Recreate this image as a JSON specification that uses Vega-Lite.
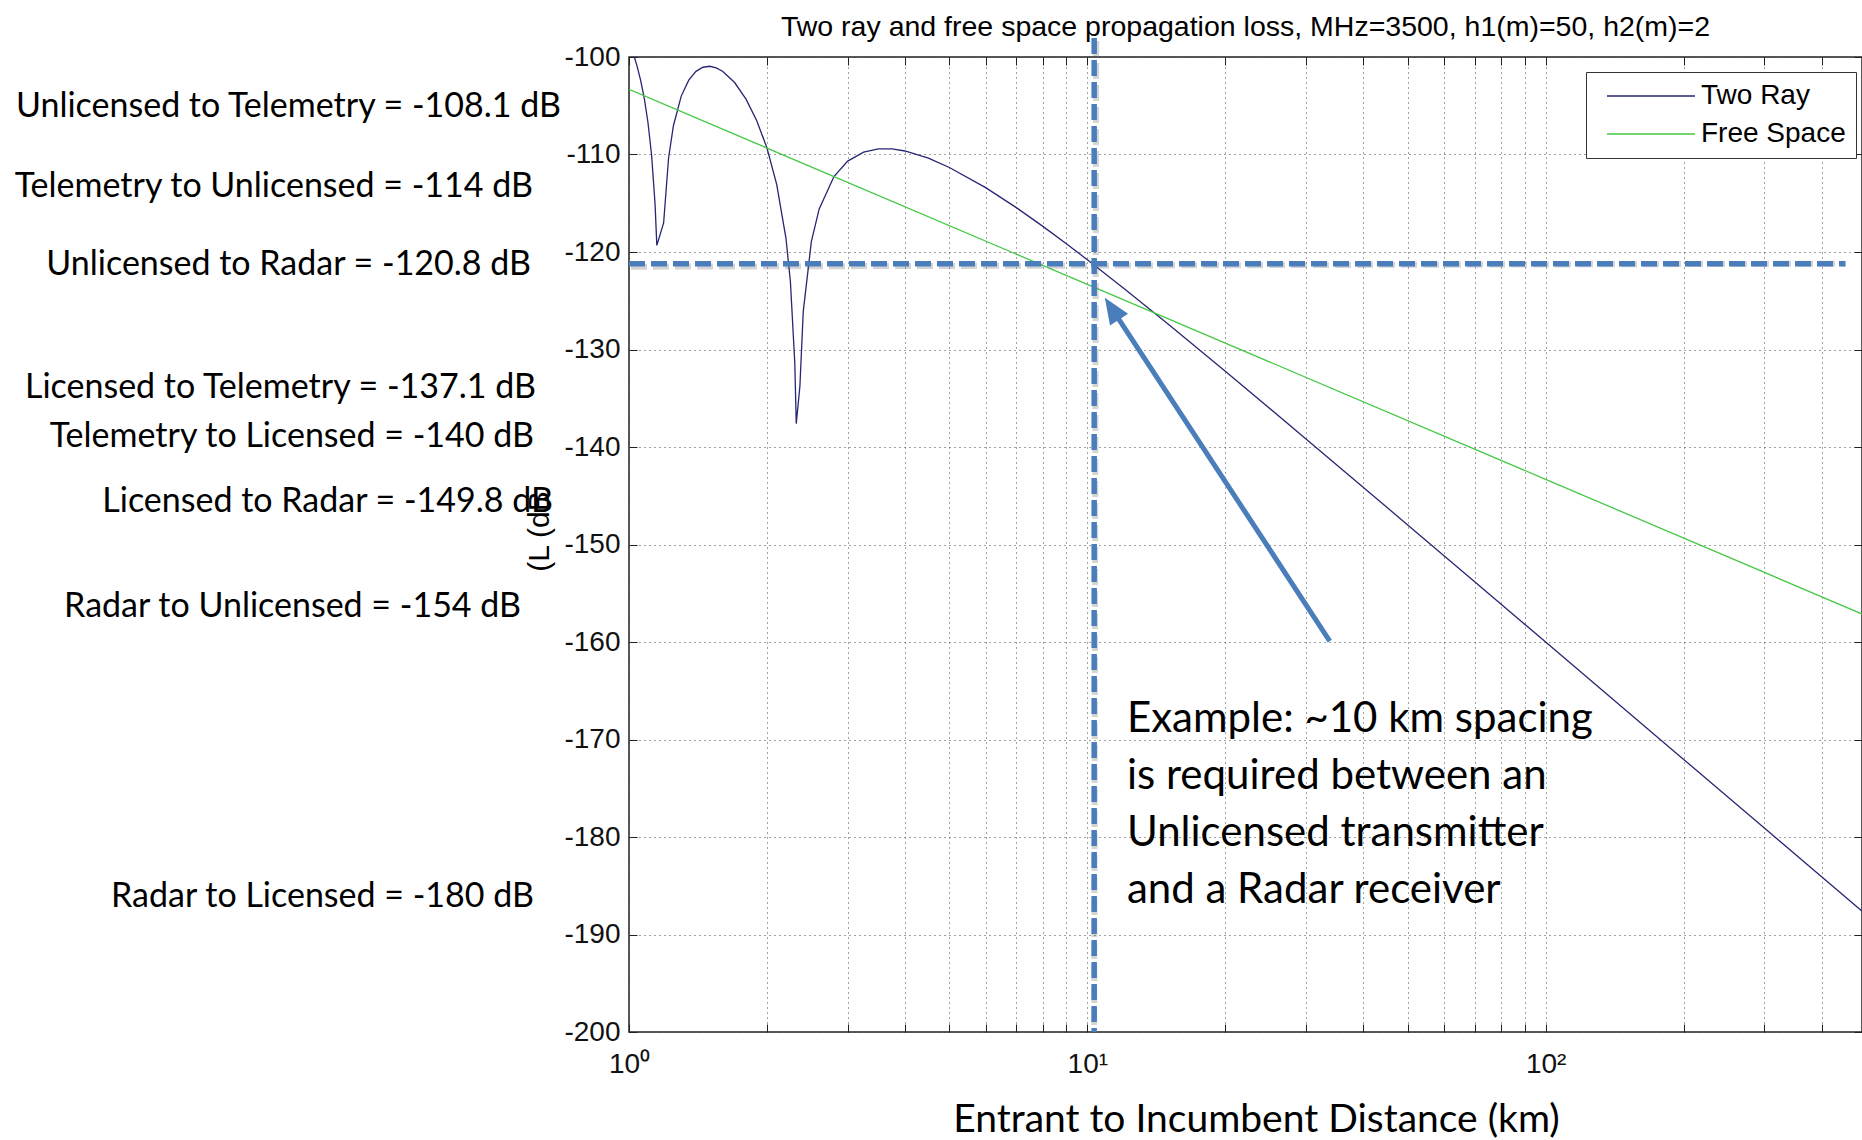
{
  "$schema": "https://vega.github.io/schema/vega-lite/v6.json",
  "width": 1233,
  "height": 975,
  "autosize": {"type": "none"},
  "padding": {"left": 629, "top": 57, "right": 0, "bottom": 108},
  "background": "white",
  "title": {
    "text": "Two ray and free space propagation loss, MHz=3500, h1(m)=50, h2(m)=2",
    "font": "Liberation Sans", "fontSize": 28.5, "fontWeight": "normal", "color": "black",
    "anchor": "middle", "frame": "group", "baseline": "bottom", "offset": -35
  },
  "config": {
    "view": {"stroke": "#222", "strokeWidth": 1.5},
    "axis": {"labelFont": "Liberation Sans", "labelColor": "#111", "tickColor": "#222", "tickWidth": 1, "domain": false, "titleFontWeight": "normal", "titleColor": "#111"}
  },
  "datasets": {
    "curves": [
      {"series": "Two Ray", "d": 1.00, "L": -98.55},
      {"series": "Two Ray", "d": 1.02, "L": -99.57},
      {"series": "Two Ray", "d": 1.04, "L": -100.83},
      {"series": "Two Ray", "d": 1.06, "L": -102.37},
      {"series": "Two Ray", "d": 1.08, "L": -104.28},
      {"series": "Two Ray", "d": 1.10, "L": -106.72},
      {"series": "Two Ray", "d": 1.12, "L": -110.02},
      {"series": "Two Ray", "d": 1.14, "L": -115.11},
      {"series": "Two Ray", "d": 1.15, "L": -119.32},
      {"series": "Two Ray", "d": 1.19, "L": -117.02},
      {"series": "Two Ray", "d": 1.22, "L": -110.36},
      {"series": "Two Ray", "d": 1.25, "L": -107.05},
      {"series": "Two Ray", "d": 1.30, "L": -104.01},
      {"series": "Two Ray", "d": 1.35, "L": -102.37},
      {"series": "Two Ray", "d": 1.40, "L": -101.47},
      {"series": "Two Ray", "d": 1.45, "L": -101.05},
      {"series": "Two Ray", "d": 1.50, "L": -100.95},
      {"series": "Two Ray", "d": 1.55, "L": -101.11},
      {"series": "Two Ray", "d": 1.60, "L": -101.46},
      {"series": "Two Ray", "d": 1.70, "L": -102.62},
      {"series": "Two Ray", "d": 1.80, "L": -104.32},
      {"series": "Two Ray", "d": 1.90, "L": -106.53},
      {"series": "Two Ray", "d": 2.00, "L": -109.34},
      {"series": "Two Ray", "d": 2.10, "L": -113.06},
      {"series": "Two Ray", "d": 2.20, "L": -118.57},
      {"series": "Two Ray", "d": 2.25, "L": -123.05},
      {"series": "Two Ray", "d": 2.30, "L": -131.38},
      {"series": "Two Ray", "d": 2.317, "L": -137.6},
      {"series": "Two Ray", "d": 2.36, "L": -133.75},
      {"series": "Two Ray", "d": 2.40, "L": -126.09},
      {"series": "Two Ray", "d": 2.50, "L": -118.90},
      {"series": "Two Ray", "d": 2.60, "L": -115.58},
      {"series": "Two Ray", "d": 2.80, "L": -112.26},
      {"series": "Two Ray", "d": 3.00, "L": -110.68},
      {"series": "Two Ray", "d": 3.25, "L": -109.76},
      {"series": "Two Ray", "d": 3.50, "L": -109.43},
      {"series": "Two Ray", "d": 3.75, "L": -109.43},
      {"series": "Two Ray", "d": 4.00, "L": -109.64},
      {"series": "Two Ray", "d": 4.50, "L": -110.38},
      {"series": "Two Ray", "d": 5.00, "L": -111.33},
      {"series": "Two Ray", "d": 6.00, "L": -113.40},
      {"series": "Two Ray", "d": 7.00, "L": -115.45},
      {"series": "Two Ray", "d": 8.00, "L": -117.37},
      {"series": "Two Ray", "d": 9.00, "L": -119.15},
      {"series": "Two Ray", "d": 10.0, "L": -120.79},
      {"series": "Two Ray", "d": 12.0, "L": -123.71},
      {"series": "Two Ray", "d": 15.0, "L": -127.39},
      {"series": "Two Ray", "d": 20.0, "L": -132.23},
      {"series": "Two Ray", "d": 30.0, "L": -139.17},
      {"series": "Two Ray", "d": 50.0, "L": -147.99},
      {"series": "Two Ray", "d": 70.0, "L": -153.82},
      {"series": "Two Ray", "d": 100, "L": -160.00},
      {"series": "Two Ray", "d": 150, "L": -167.04},
      {"series": "Two Ray", "d": 200, "L": -172.04},
      {"series": "Two Ray", "d": 300, "L": -179.08},
      {"series": "Two Ray", "d": 400, "L": -184.08},
      {"series": "Two Ray", "d": 500, "L": -187.96},
      {"series": "Free Space", "d": 1, "L": -103.32},
      {"series": "Free Space", "d": 10, "L": -123.32},
      {"series": "Free Space", "d": 100, "L": -143.32},
      {"series": "Free Space", "d": 500, "L": -157.30}
    ],
    "guides": [
      {"d": 1, "d2": 451, "L": -121.2, "L2": -121.2},
      {"d": 10.35, "d2": 10.35, "L": -98.05, "L2": -200}
    ],
    "shaft": [
      {"d": 33.8, "L": -159.9, "d2": 11.48, "L2": -126.27}
    ],
    "head": [
      {"d": 10.92, "L": -124.7}
    ],
    "note": [
      {"d": 12.2, "L": -169.2, "label": "Example: ~10 km spacing\nis required between an\nUnlicensed transmitter\nand a Radar receiver"}
    ],
    "sidelabels": [
      {"d": 0.7106, "L": -105.13, "label": "Unlicensed to Telemetry  = -108.1 dB"},
      {"d": 0.6173, "L": -113.33, "label": "Telemetry to Unlicensed  = -114 dB"},
      {"d": 0.6112, "L": -121.33, "label": "Unlicensed to Radar  = -120.8 dB"},
      {"d": 0.6267, "L": -133.95, "label": "Licensed to Telemetry  = -137.1 dB"},
      {"d": 0.6204, "L": -138.97, "label": "Telemetry to Licensed = -140 dB"},
      {"d": 0.6825, "L": -145.64, "label": "Licensed to Radar  = -149.8 dB"},
      {"d": 0.5814, "L": -156.41, "label": "Radar to Unlicensed  = -154 dB"},
      {"d": 0.6204, "L": -186.15, "label": "Radar to Licensed = -180 dB"}
    ]
  },
  "layer": [
    {
      "data": {"name": "curves"},
      "mark": {"type": "line", "clip": true, "strokeWidth": 1.3},
      "encoding": {
        "x": {
          "field": "d", "type": "quantitative",
          "scale": {"type": "log", "domain": [1, 490], "nice": false},
          "axis": {
            "orient": "bottom",
            "values": [1, 2, 3, 4, 5, 6, 7, 8, 9, 10, 20, 30, 40, 50, 60, 70, 80, 90, 100, 200, 300, 400],
            "labelExpr": "datum.value == 1 ? '10⁰' : datum.value == 10 ? '10¹' : datum.value == 100 ? '10²' : ''",
            "labelFontSize": 28, "labelPadding": 26, "labelOverlap": false, "labelFlush": false,
            "tickSize": -8,
            "grid": true, "gridColor": "#444", "gridDash": [1, 4], "gridWidth": 1,
            "title": "Entrant to Incumbent Distance (km)", "titleFont": "Lato", "titleFontSize": 39,
            "titleColor": "black", "titleX": 627, "titleY": 87, "titleAlign": "center", "titleBaseline": "middle"
          }
        },
        "y": {
          "field": "L", "type": "quantitative",
          "scale": {"domain": [-200, -100], "nice": false, "zero": false},
          "axis": {
            "orient": "left",
            "values": [-200, -190, -180, -170, -160, -150, -140, -130, -120, -110, -100],
            "labelExpr": "'-' + abs(datum.value)",
            "labelFontSize": 28, "labelPadding": 17,
            "tickSize": -8,
            "grid": true, "gridColor": "#444", "gridDash": [1, 4], "gridWidth": 1,
            "title": "(L (dB", "titleFont": "Liberation Sans", "titleFontSize": 30, "titleAngle": 270,
            "titleX": -90, "titleY": 474, "titleAlign": "center", "titleBaseline": "middle", "titleColor": "black"
          }
        },
        "color": {
          "field": "series", "type": "nominal",
          "scale": {"domain": ["Two Ray", "Free Space"], "range": ["#262673", "#45c845"]},
          "legend": {
            "orient": "none", "legendX": 957, "legendY": 15, "title": null,
            "fillColor": "white", "strokeColor": "#333", "padding": 10,
            "symbolType": "M-5,0L5,0", "symbolSize": 310, "symbolStrokeWidth": 1.5,
            "symbolOffset": 41, "labelOffset": 36,
            "labelFont": "Liberation Sans", "labelFontSize": 28, "labelColor": "black", "rowPadding": 10
          }
        }
      }
    },
    {
      "data": {"name": "guides"},
      "mark": {"type": "rule", "color": "#555", "opacity": 0.25, "strokeWidth": 6, "strokeDash": [16, 6], "xOffset": 2, "yOffset": 3},
      "encoding": {
        "x": {"field": "d", "type": "quantitative", "scale": {"type": "log", "domain": [1, 490], "nice": false}, "axis": null},
        "x2": {"field": "d2"},
        "y": {"field": "L", "type": "quantitative", "scale": {"domain": [-200, -100], "nice": false, "zero": false}, "axis": null},
        "y2": {"field": "L2"}
      }
    },
    {
      "data": {"name": "guides"},
      "mark": {"type": "rule", "color": "#4a7ebb", "strokeWidth": 5.5, "strokeDash": [16, 6]},
      "encoding": {
        "x": {
          "field": "d", "type": "quantitative", "scale": {"type": "log", "domain": [1, 490], "nice": false},
          "axis": {"orient": "top", "values": [1, 2, 3, 4, 5, 6, 7, 8, 9, 10, 20, 30, 40, 50, 60, 70, 80, 90, 100, 200, 300, 400], "labels": false, "grid": false, "tickSize": -8, "title": null}
        },
        "x2": {"field": "d2"},
        "y": {
          "field": "L", "type": "quantitative", "scale": {"domain": [-200, -100], "nice": false, "zero": false},
          "axis": {"orient": "right", "values": [-200, -190, -180, -170, -160, -150, -140, -130, -120, -110, -100], "labels": false, "grid": false, "tickSize": -8, "title": null}
        },
        "y2": {"field": "L2"}
      }
    },
    {
      "data": {"name": "shaft"},
      "mark": {"type": "rule", "color": "#4a7ebb", "strokeWidth": 5, "strokeCap": "butt"},
      "encoding": {
        "x": {"field": "d", "type": "quantitative", "scale": {"type": "log", "domain": [1, 490], "nice": false}, "axis": null},
        "x2": {"field": "d2"},
        "y": {"field": "L", "type": "quantitative", "scale": {"domain": [-200, -100], "nice": false, "zero": false}, "axis": null},
        "y2": {"field": "L2"}
      }
    },
    {
      "data": {"name": "head"},
      "mark": {"type": "point", "shape": "M0,0L0.7,1.7L-0.7,1.7Z", "size": 940, "angle": 327, "filled": true, "color": "#4a7ebb", "opacity": 1, "strokeWidth": 0},
      "encoding": {
        "x": {"field": "d", "type": "quantitative", "scale": {"type": "log", "domain": [1, 490], "nice": false}, "axis": null},
        "y": {"field": "L", "type": "quantitative", "scale": {"domain": [-200, -100], "nice": false, "zero": false}, "axis": null}
      }
    },
    {
      "data": {"name": "note"},
      "mark": {"type": "text", "font": "Lato", "fontSize": 42, "align": "left", "baseline": "alphabetic", "lineHeight": 57, "lineBreak": "\n", "color": "black"},
      "encoding": {
        "x": {"field": "d", "type": "quantitative", "scale": {"type": "log", "domain": [1, 490], "nice": false}, "axis": null},
        "y": {"field": "L", "type": "quantitative", "scale": {"domain": [-200, -100], "nice": false, "zero": false}, "axis": null},
        "text": {"field": "label"}
      }
    },
    {
      "data": {"name": "sidelabels"},
      "mark": {"type": "text", "font": "Lato", "fontSize": 34, "align": "right", "baseline": "middle", "color": "black"},
      "encoding": {
        "x": {"field": "d", "type": "quantitative", "scale": {"type": "log", "domain": [1, 490], "nice": false}, "axis": null},
        "y": {"field": "L", "type": "quantitative", "scale": {"domain": [-200, -100], "nice": false, "zero": false}, "axis": null},
        "text": {"field": "label"}
      }
    }
  ],
  "resolve": {"axis": {"x": "independent", "y": "independent"}}
}
